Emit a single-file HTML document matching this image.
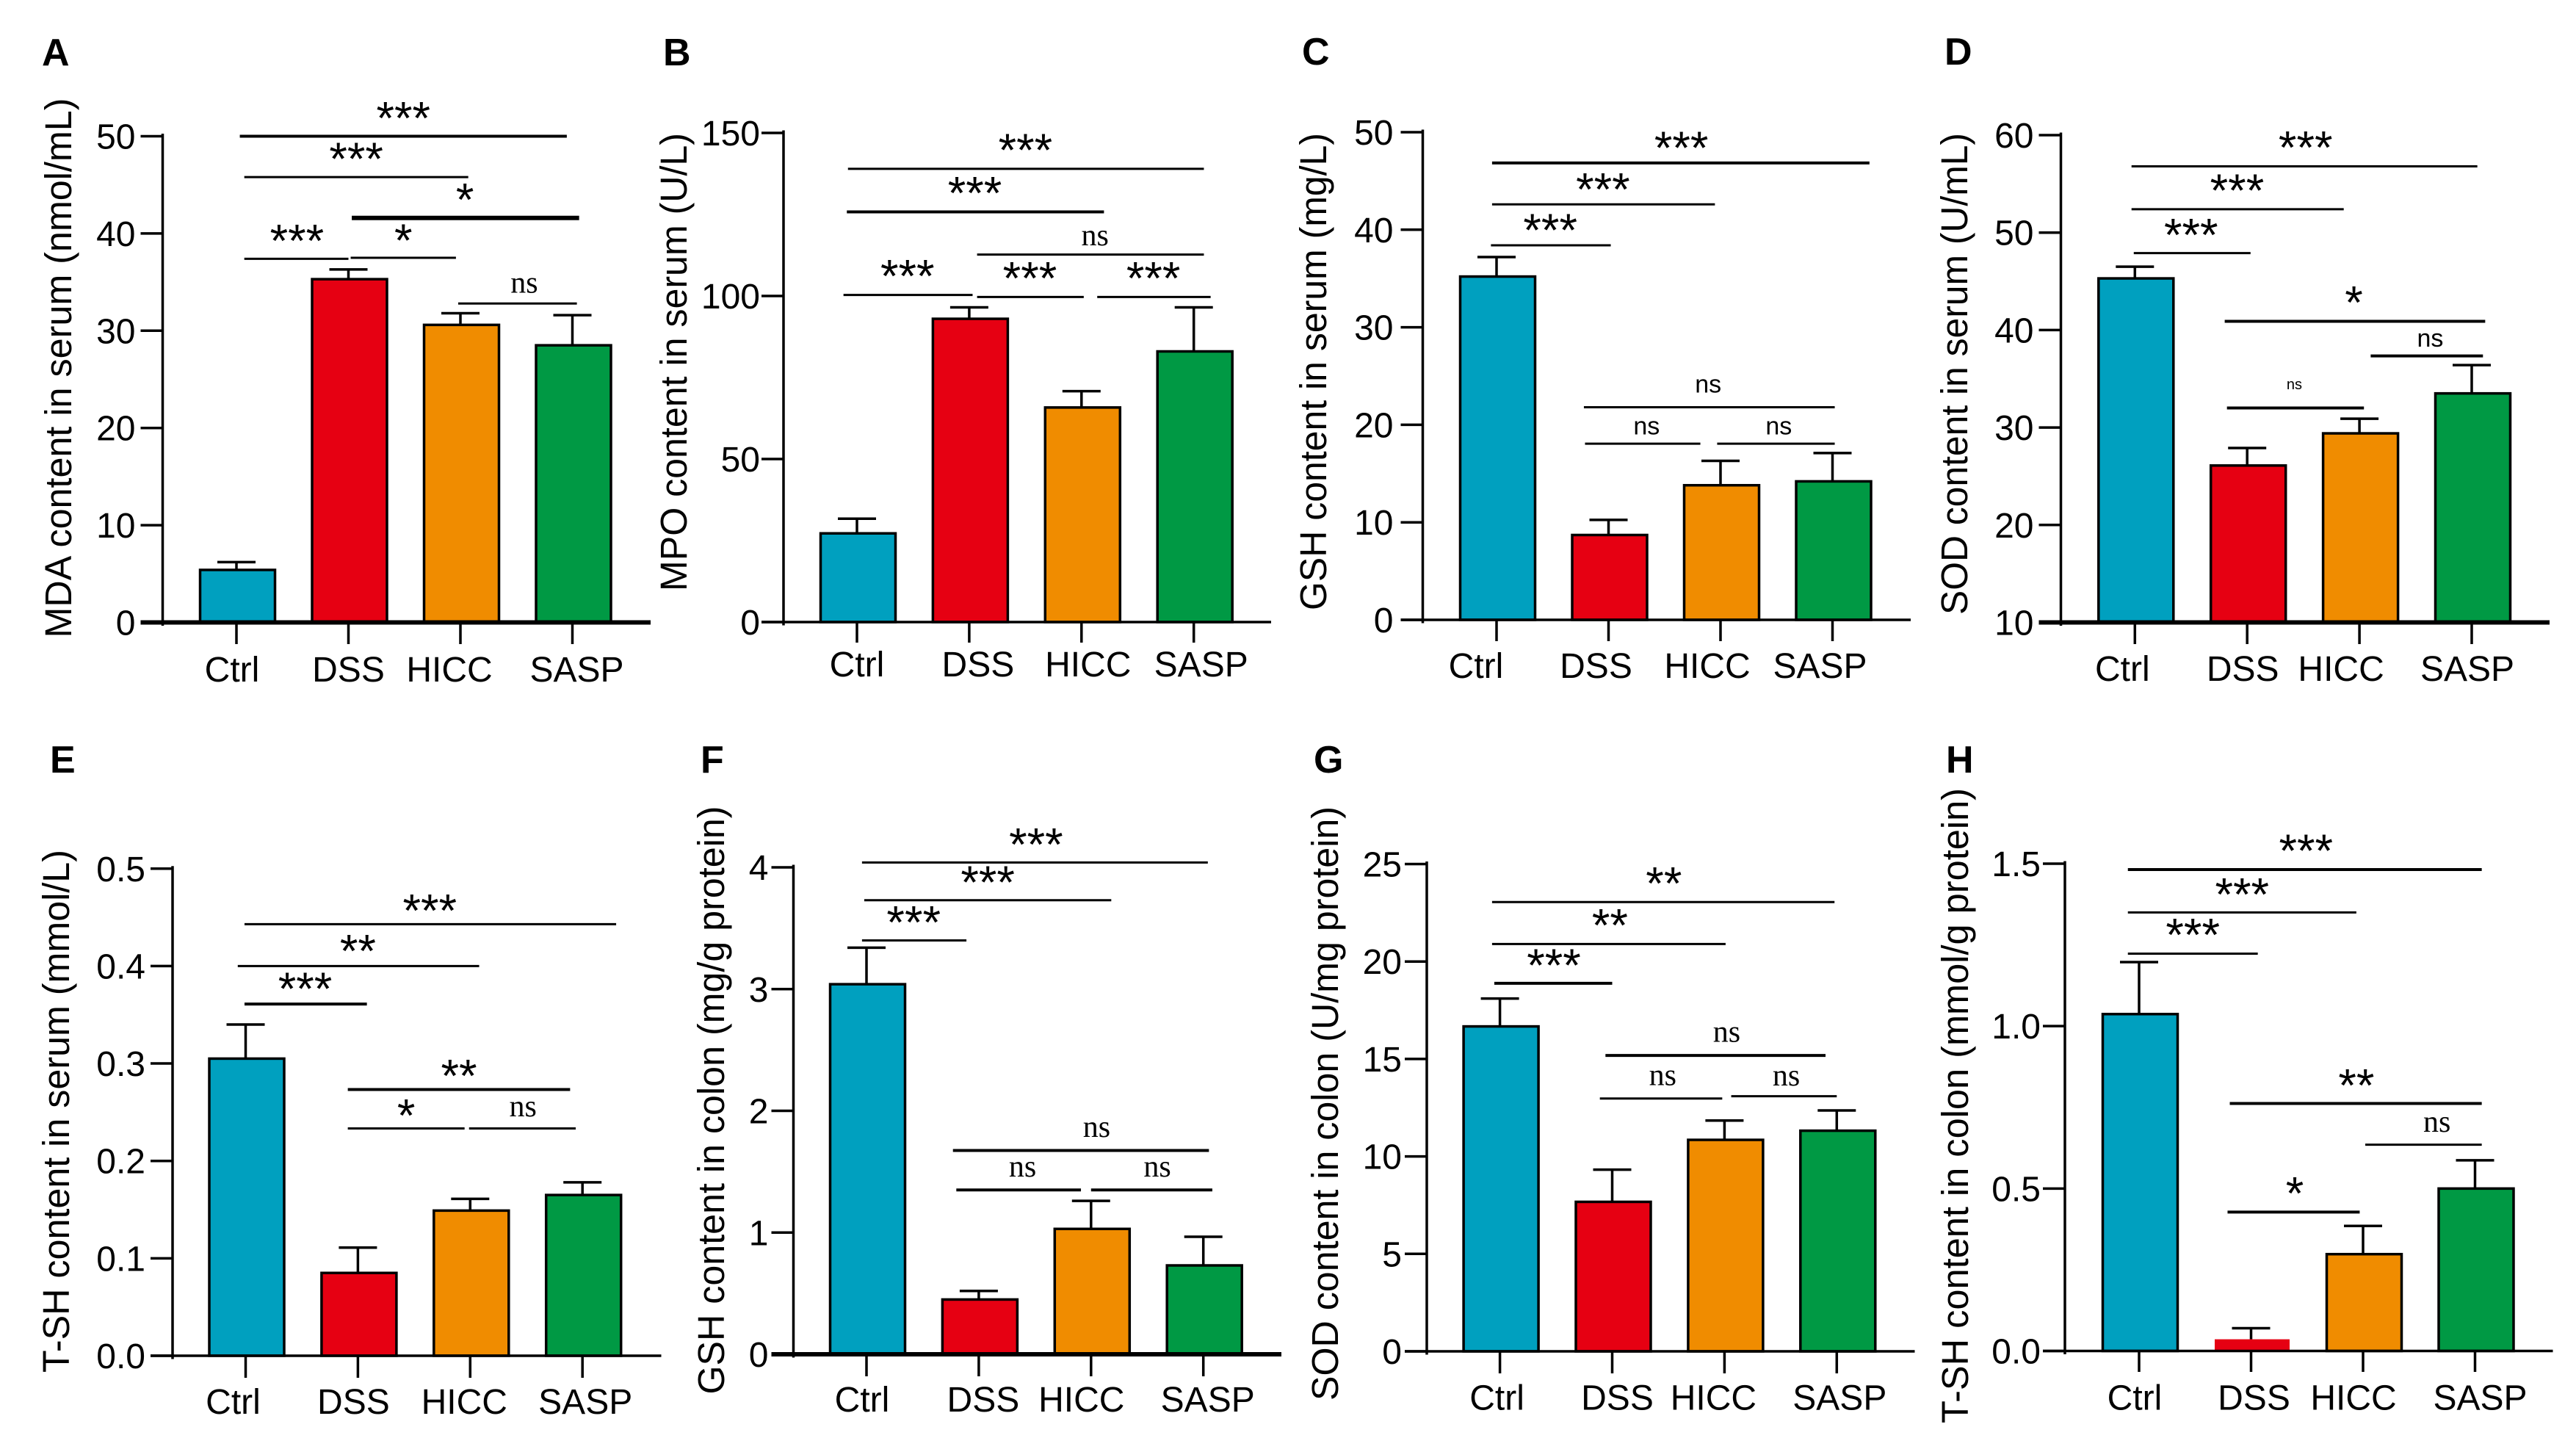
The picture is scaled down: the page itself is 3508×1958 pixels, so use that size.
<!DOCTYPE html>
<html lang="en">
<head>
<meta charset="utf-8">
<title>Biochemical indicators in serum and colon</title>
<style>
html,body{margin:0;padding:0;background:#fff;}
#figure{display:block;width:3508px;height:1958px;background:#fff;}
text{font-family:"Liberation Sans",Arial,sans-serif;fill:#000;}
</style>
</head>
<body>
<svg id="figure" xmlns="http://www.w3.org/2000/svg" width="3508" height="1958" viewBox="0 0 3508 1958"></svg>
<script>
const categories = ['Ctrl', 'DSS', 'HICC', 'SASP'];
const barColors = ['#00a0bf', '#e60012', '#f08c00', '#009944'];

const valuesA = [5.4, 35.3, 30.6, 28.5];
const errorsA = [0.8, 1, 1.2, 3.1];
const ticksA = ['0', '10', '20', '30', '40', '50'];

const valuesB = [27.2, 93, 65.8, 83];
const errorsB = [4.5, 3.5, 5, 13.5];
const ticksB = ['0', '50', '100', '150'];

const valuesC = [35.2, 8.7, 13.8, 14.2];
const errorsC = [2, 1.55, 2.5, 2.9];
const ticksC = ['0', '10', '20', '30', '40', '50'];

const valuesD = [45.3, 26.1, 29.4, 33.5];
const errorsD = [1.2, 1.8, 1.5, 2.9];
const ticksD = ['10', '20', '30', '40', '50', '60'];

const valuesE = [0.305, 0.085, 0.149, 0.165];
const errorsE = [0.035, 0.026, 0.012, 0.013];
const ticksE = ['0.0', '0.1', '0.2', '0.3', '0.4', '0.5'];

const valuesF = [3.04, 0.45, 1.03, 0.73];
const errorsF = [0.30, 0.07, 0.23, 0.235];
const ticksF = ['0', '1', '2', '3', '4'];

const valuesG = [16.67, 7.67, 10.85, 11.32];
const errorsG = [1.43, 1.65, 0.99, 1.04];
const ticksG = ['0', '5', '10', '15', '20', '25'];

const valuesH = [1.037, 0.036, 0.298, 0.5];
const errorsH = [0.16, 0.034, 0.087, 0.087];
const ticksH = ['0.0', '0.5', '1.0', '1.5'];

/* significance brackets: [from category, to category, axis level, label, label category, label gap, weight, label size] */
const sigA = [[0.03,2.95,50,'***',1.49,33,4],[0.07,2.07,45.8,'***',1.07,33],[1.03,3.06,41.6,'*',2.04,33,6],[0.07,1,37.4,'***',0.54,33],[1.02,1.96,37.5,'*',1.49,32],[1.98,3.04,32.8,'ns',2.57,24]];
const sigB = [[-0.08,3.09,139,'***',1.5,34],[-0.09,2.2,125.8,'***',1.05,34,4],[1.07,3.09,112.7,'ns',2.12,22],[-0.12,1.03,100.3,'***',0.45,34],[1.07,2.02,99.7,'***',1.54,34],[2.14,3.15,99.7,'***',2.64,34]];
const sigC = [[-0.04,3.33,46.85,'***',1.65,29,4],[-0.04,1.95,42.6,'***',0.95,29],[-0.05,1.02,38.4,'***',0.48,29],[0.78,3.02,21.8,'ns',1.89,27.5],[0.79,1.82,18.06,'ns',1.34,20],[1.97,3.02,18.06,'ns',2.52,20]];
const sigD = [[-0.03,3.05,56.8,'***',1.52,34],[-0.03,1.86,52.4,'***',0.91,34],[-0.01,1.03,47.9,'***',0.5,33],[0.8,3.12,40.9,'*',1.95,34,4],[2.1,3.1,37.35,'ns',2.63,20,4],[0.82,2.04,32,'ns',1.42,30,4,20]];
const sigE = [[-0.01,3.3,0.443,'***',1.64,27],[-0.07,2.08,0.4,'**',1,29],[-0.01,1.08,0.361,'***',0.53,29,4],[0.91,2.89,0.2733,'**',1.9,27,4],[0.91,1.95,0.2333,'*',1.43,26],[1.99,2.94,0.2333,'ns',2.47,26]];
const sigF = [[-0.04,3.04,4.04,'***',1.51,33],[-0.02,2.18,3.73,'***',1.08,33],[-0.04,0.89,3.4,'***',0.42,33],[0.77,3.05,1.674,'ns',2.05,28,4],[0.8,1.91,1.35,'ns',1.39,27.5,4],[2,3.08,1.35,'ns',2.59,27.5,4]];
const sigG = [[-0.07,2.98,23.05,'**',1.46,34],[-0.07,2.01,20.9,'**',0.98,34],[-0.05,1,18.88,'***',0.48,33,4],[0.94,2.9,15.18,'ns',2.02,28,4],[0.89,1.98,12.97,'ns',1.45,27.5],[2.06,3,13.09,'ns',2.55,24]];
const sigH = [[-0.1,3.06,1.482,'***',1.49,34,4],[-0.1,1.94,1.35,'***',0.92,33],[-0.1,1.06,1.223,'***',0.48,34],[0.81,3.06,0.762,'**',1.94,33,4],[2.02,3.06,0.635,'ns',2.66,27],[0.79,1.97,0.4275,'*',1.39,34,4]];

const panels = [
  {id:'A', title:'MDA content in serum (nmol/mL)', values:valuesA, errors:errorsA, ticks:ticksA, sig:sigA,
   letterX:57, letterY:89, axisX:221.5, base:847.5, top:185.5, right:886, first:322, step:152.5, titleX:81, titleY:501, titleLen:735, labelY:928, tickEnd:877, shift:[-6,0,-15,6], baseW:6, nsSans:false, tickLabelNudge:0},
  {id:'B', title:'MPO content in serum (U/L)', values:valuesB, errors:errorsB, ticks:ticksB, sig:sigB,
   letterX:903, letterY:89, axisX:1067, base:847, top:181, right:1731, first:1167, step:152.9, titleX:919, titleY:493, titleLen:624, labelY:921, tickEnd:875, shift:[0,12,9,10], baseW:3.5, nsSans:false, tickLabelNudge:5},
  {id:'C', title:'GSH content in serum (mg/L)', values:valuesC, errors:errorsC, ticks:ticksC, sig:sigC,
   letterX:1773, letterY:88, axisX:1937.5, base:844, top:180, right:2602, first:2038, step:152.5, titleX:1790, titleY:506, titleLen:650, labelY:923, tickEnd:873, shift:[-28,-17,-18,-17], baseW:3.5, nsSans:true, tickLabelNudge:-3},
  {id:'D', title:'SOD content in serum (U/mL)', values:valuesD, errors:errorsD, ticks:ticksD, sig:sigD,
   letterX:2648, letterY:88, axisX:2806.5, base:847.5, top:184, right:3472, first:2907.3, step:152.9, titleX:2663, titleY:509, titleLen:656, labelY:927, tickEnd:877, shift:[-17,-6,-25,-6], baseW:6, nsSans:true, tickLabelNudge:0},
  {id:'E', title:'T-SH content in serum (mmol/L)', values:valuesE, errors:errorsE, ticks:ticksE, sig:sigE,
   letterX:68, letterY:1052, axisX:235, base:1846, top:1182.75, right:900.5, first:334.5, step:152.9, titleX:78, titleY:1513, titleLen:712, labelY:1925, tickEnd:1876, shift:[-17,-6,-8,4], baseW:3.5, nsSans:false, tickLabelNudge:0},
  {id:'F', title:'GSH content in colon (mg/g protein)', values:valuesF, errors:errorsF, ticks:ticksF, sig:sigF,
   letterX:954, letterY:1052, axisX:1080.5, base:1844, top:1181, right:1745, first:1180, step:152.9, titleX:970, titleY:1498, titleLen:801, labelY:1922, tickEnd:1874, shift:[-6,6,-13,6], baseW:6, nsSans:false, tickLabelNudge:3},
  {id:'G', title:'SOD content in colon (U/mg protein)', values:valuesG, errors:errorsG, ticks:ticksG, sig:sigG,
   letterX:1789, letterY:1052, axisX:1943, base:1840, top:1176.5, right:2607.5, first:2042.6, step:152.9, titleX:1806, titleY:1502.5, titleLen:809, labelY:1919.5, tickEnd:1870, shift:[-4,7,-15,4], baseW:3.5, nsSans:false, tickLabelNudge:3},
  {id:'H', title:'T-SH content in colon (mmol/g protein)', values:valuesH, errors:errorsH, ticks:ticksH, sig:sigH,
   letterX:2650, letterY:1052, axisX:2812, base:1839.5, top:1176, right:3476.5, first:2913, step:152.5, titleX:2664, titleY:1505.5, titleLen:865, labelY:1919.5, tickEnd:1868, shift:[-6,4,-13,7], baseW:3.5, nsSans:false, tickLabelNudge:4, unoutlined:[1]}
];

const SVG_NS = 'http://www.w3.org/2000/svg';
const figure = document.getElementById('figure');
const BAR_WIDTH = 102;
const BAR_NUDGE = 1.5;
const CAP_WIDTH = 52;
const TICK_LEN = 30;

function make(parent, tag, attrs, content) {
  const el = document.createElementNS(SVG_NS, tag);
  for (const key in attrs) el.setAttribute(key, attrs[key]);
  if (content !== undefined) el.textContent = content;
  parent.appendChild(el);
  return el;
}

function lineAttrs(x1, y1, x2, y2, w) {
  return {x1: x1, y1: y1, x2: x2, y2: y2, stroke: '#000', 'stroke-width': w};
}

function drawPanel(p) {
  const group = make(figure, 'g', {});
  
  

  const yMin = parseFloat(p.ticks[0]);
  const yMax = parseFloat(p.ticks[p.ticks.length - 1]);
  const yScale = v => p.base - (v - yMin) / (yMax - yMin) * (p.base - p.top);
  const xScale = c => p.first + c * p.step;

  const letter = make(group, 'text', {x: p.letterX, y: p.letterY, 'font-size': 52, 'font-weight': 'bold'}, p.id);
  
  

  const title = make(group, 'text', {
    x: 0, y: 0, 'font-size': 51, 'text-anchor': 'middle',
    textLength: p.titleLen, lengthAdjust: 'spacingAndGlyphs',
    transform: 'translate(' + (p.titleX + 16) + ',' + p.titleY + ') rotate(-90)'
  }, p.title);
  
  

  p.values.forEach((value, i) => {
    const cx = xScale(i);
    const errTop = yScale(value + p.errors[i]);
    const stem = make(group, 'line', lineAttrs(cx, yScale(value), cx, errTop, 3.5));
    
    
    const cap = make(group, 'line', lineAttrs(cx - CAP_WIDTH / 2, errTop, cx + CAP_WIDTH / 2, errTop, 3.5));
    
    
    const plain = (p.unoutlined || []).includes(i);
    const bar = make(group, 'rect', {
      x: cx + BAR_NUDGE - BAR_WIDTH / 2, y: yScale(value), width: BAR_WIDTH,
      height: p.base - yScale(value), fill: barColors[i],
      stroke: plain ? 'none' : '#000', 'stroke-width': 3.5
    });
    
    
    const tick = make(group, 'line', lineAttrs(cx, p.base, cx, p.tickEnd, 3.5));
    
    
    const label = make(group, 'text', {x: cx + p.shift[i], y: p.labelY, 'font-size': 48, 'text-anchor': 'middle'}, categories[i]);
    
    
  });

  const yAxis = make(group, 'line', lineAttrs(p.axisX, p.top - 3.5, p.axisX, p.base + 4.5, 3.5));
  
  
  const xAxis = make(group, 'line', lineAttrs(p.axisX - TICK_LEN, p.base, p.right, p.base, p.baseW));
  
  

  p.ticks.forEach(t => {
    const y = yScale(parseFloat(t));
    const tick = make(group, 'line', lineAttrs(p.axisX - TICK_LEN, y, p.axisX, y, 3.5));
    
    
    const label = make(group, 'text', {x: p.axisX - TICK_LEN - 7 + p.tickLabelNudge, y: y + 17, 'font-size': 48, 'text-anchor': 'end'}, t);
    
    
  });

  p.sig.forEach(s => {
    const [from, to, level, text, at, gap, weight, size] = s;
    const y = yScale(level);
    const rule = make(group, 'line', lineAttrs(xScale(from), y, xScale(to), y, weight || 3));
    
    
    const centerY = y - gap;
    let attrs;
    if (text === 'ns') {
      const sans = p.nsSans;
      const fs = size || (sans ? 34 : 42);
      attrs = {x: xScale(at), y: centerY + fs * 0.22, 'font-size': fs, 'text-anchor': 'middle'};
      if (!sans) attrs.style = 'font-family:"Liberation Serif",serif';
    } else {
      attrs = {x: xScale(at), y: centerY + 30, 'font-size': 63, 'text-anchor': 'middle'};
    }
    const mark = make(group, 'text', attrs, text);
    
    
  });
}

panels.forEach(drawPanel);
</script>
</body>
</html>
